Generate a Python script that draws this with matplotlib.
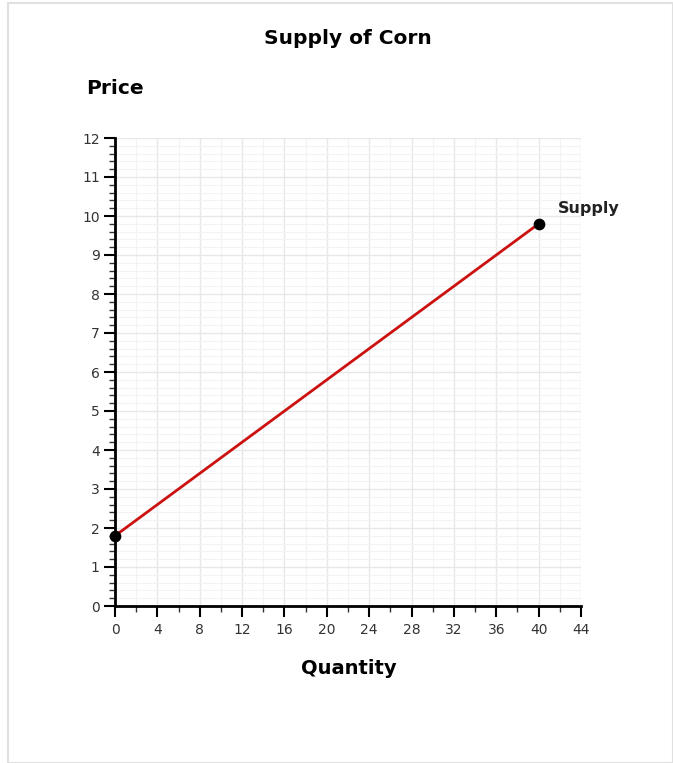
import matplotlib
matplotlib.use('Agg')
import matplotlib.pyplot as plt
from matplotlib.patches import Rectangle
from matplotlib.ticker import MultipleLocator
import numpy as np

# supply curve end points
quantity = [0, 40]
price = [1.8, 9.8]
curve_label = 'Supply'

x_ticks = list(range(0, 45, 4))
y_ticks = list(range(0, 13))

fig = plt.figure(figsize=(6.73, 7.63), dpi=100)
fig.patches.append(Rectangle((8 / 673, 0), 1 - 8 / 673, 1 - 3 / 763, transform=fig.transFigure,
                             fill=False, edgecolor='#e0e0e0', linewidth=1.5))

ax = fig.add_axes([115 / 673, 1 - 606 / 763, 466 / 673, 468 / 763])
ax.set_xlim(0, 44)
ax.set_ylim(0, 12)

ax.xaxis.set_major_locator(MultipleLocator(4))
ax.xaxis.set_minor_locator(MultipleLocator(2))
ax.yaxis.set_major_locator(MultipleLocator(1))
ax.yaxis.set_minor_locator(MultipleLocator(0.2))
ax.set_xticks(x_ticks)
ax.set_yticks(y_ticks)

ax.grid(which='major', color='#e8e8e8', linewidth=1)
ax.grid(which='minor', color='#f3f3f3', linewidth=0.8)
ax.set_axisbelow(True)

for s in ['top', 'right']:
    ax.spines[s].set_visible(False)
for s in ['left', 'bottom']:
    ax.spines[s].set_linewidth(2)
    ax.spines[s].set_color('black')

ax.tick_params(which='major', length=8, width=1.5, labelsize=10, labelcolor='#333333', color='black')
ax.tick_params(which='minor', length=4, width=1, color='#333333')
ax.tick_params(axis='y', which='major', pad=3)
ax.tick_params(axis='x', which='major', pad=4)

ax.plot(quantity, price, color='#cc1111', linewidth=2, zorder=3, clip_on=False)
ax.scatter(quantity, price, color='black', s=55, zorder=4, clip_on=False)
ax.annotate(curve_label, (quantity[-1], price[-1]), xytext=(14, 11), textcoords='offset points',
            fontsize=11.5, fontweight='bold', color='#222222', ha='left', va='center')

fig.text(348 / 673, 1 - 38 / 763, 'Supply of Corn', ha='center', va='center',
         fontsize=14.5, fontweight='bold')
fig.text(86 / 673, 1 - 88 / 763, 'Price', ha='left', va='center', fontsize=14.5, fontweight='bold')
fig.text(349 / 673, 1 - 668 / 763, 'Quantity', ha='center', va='center', fontsize=14, fontweight='bold')

fig.savefig('out.png', dpi=100)
